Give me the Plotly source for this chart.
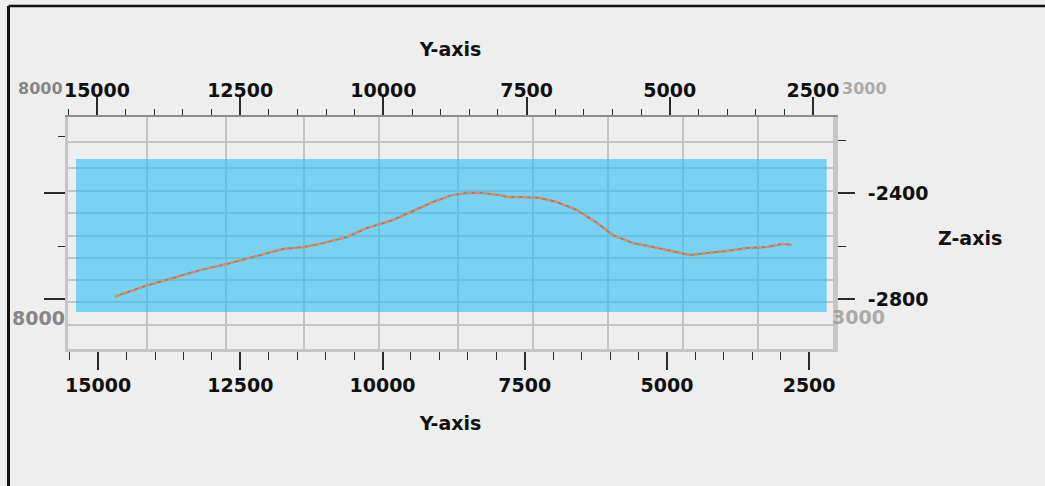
import plotly.graph_objects as go

# ---------------- data ----------------
# horizon line: Y coordinate (m) and Z depth (m)
horizon_y = [14704, 14212, 13684, 13209, 12735, 12278, 11750, 11381, 11100, 10625,
             10274, 9816, 9518, 9113, 8779, 8516, 8234, 7935, 7812, 7531,
             7232, 6933, 6582, 6230, 5949, 5597, 5246, 4894, 4595, 4296,
             3945, 3593, 3242, 2960, 2802]
horizon_z = [-2791, -2754, -2721, -2691, -2668, -2642, -2611, -2604, -2592, -2566,
             -2532, -2502, -2472, -2434, -2408, -2400, -2400, -2408, -2415, -2415,
             -2419, -2434, -2464, -2513, -2559, -2589, -2604, -2619, -2634, -2626,
             -2619, -2608, -2604, -2592, -2596]

# section (blue slab) extent
section_y = [15390, 2190]
section_z = [-2272, -2849]

# axis ranges and ticks
bottom_y_range = [15530, 2080]
top_y_range = [15506, 2151]
z_range = [-2988.7, -2113.2]
z_tick_vals = [-2400, -2800]
z_tick_text = ["-2400", "-2800"]
z_minor_vals = [-2200, -2600]
left_major_vals = [-2400, -2800]
left_minor_vals = [-2185, -2600]
grid_y_vals = [14141, 12752, 11381, 10063, 8674, 7355, 6037, 4718, 3400]
grid_z_vals = [-2898, -2811, -2728, -2645, -2562, -2475, -2392, -2306, -2208]

BG = "#eeeeee"
FONT = "DejaVu Sans"
tickfont = dict(family=FONT, size=19, color="#111111", weight="bold")
ghost_dark = "rgba(105,105,105,0.8)"
ghost_light = "rgba(140,140,140,0.7)"

fig = go.Figure()

# blue section slab
fig.add_trace(go.Scatter(
    x=[section_y[0], section_y[1], section_y[1], section_y[0], section_y[0]],
    y=[section_z[0], section_z[0], section_z[1], section_z[1], section_z[0]],
    mode="lines", fill="toself", fillcolor="rgba(45,191,245,0.6)",
    line=dict(width=0), hoverinfo="skip", showlegend=False))

# horizon line: grey under-stroke + orange dashes
fig.add_trace(go.Scatter(x=horizon_y, y=horizon_z, mode="lines",
                         line=dict(color="#7d8792", width=2.0),
                         showlegend=False))
fig.add_trace(go.Scatter(x=horizon_y, y=horizon_z, mode="lines",
                         line=dict(color="#e8895a", width=2.4, dash="5px,3px"),
                         showlegend=False))

# empty traces so the extra axes exist
fig.add_trace(go.Scatter(x=[], y=[], xaxis="x2", yaxis="y", showlegend=False))
fig.add_trace(go.Scatter(x=[], y=[], xaxis="x", yaxis="y2", showlegend=False))
fig.add_trace(go.Scatter(x=[], y=[], xaxis="x3", yaxis="y3", showlegend=False))

fig.update_layout(
    width=1045, height=486,
    margin=dict(l=68, r=212, t=117, b=137),
    paper_bgcolor=BG, plot_bgcolor=BG,
    showlegend=False,
    xaxis=dict(
        range=bottom_y_range, tickmode="linear", tick0=0, dtick=2500, tickformat="d",
        ticks="outside", ticklen=18, tickwidth=1.5, tickcolor="#2a2a2a",
        minor=dict(dtick=500, tick0=0, ticks="outside", ticklen=8, tickwidth=1.2,
                   tickcolor="#2a2a2a", showgrid=False),
        showline=True, linecolor="#c6c6c6", linewidth=3,
        showgrid=False, zeroline=False, tickfont=tickfont, ticklabelstandoff=-1,
        title=dict(text="Y-axis", font=tickfont, standoff=22)),
    xaxis2=dict(
        overlaying="x", side="top", anchor="y",
        range=top_y_range, tickmode="linear", tick0=0, dtick=2500, tickformat="d",
        ticks="outside", ticklen=18, tickwidth=1.5, tickcolor="#2a2a2a",
        minor=dict(dtick=500, tick0=0, ticks="outside", ticklen=6, tickwidth=1.2,
                   tickcolor="#2a2a2a", showgrid=False),
        showline=True, linecolor="#8c8c8c", linewidth=1.5,
        showgrid=False, zeroline=False, tickfont=tickfont, ticklabelstandoff=-7,
        title=dict(text="Y-axis", font=tickfont, standoff=17)),
    xaxis3=dict(
        overlaying="x", anchor="y3", range=bottom_y_range, tickmode="array",
        tickvals=grid_y_vals, showticklabels=False, ticks="", showline=False,
        showgrid=True, gridcolor="#c4c4c4", gridwidth=1.5, zeroline=False),
    yaxis=dict(
        side="right", range=z_range, tickmode="array",
        tickvals=z_tick_vals, ticktext=z_tick_text,
        ticks="outside", ticklen=17, tickwidth=1.5, tickcolor="#2a2a2a",
        minor=dict(tickvals=z_minor_vals, ticks="outside", ticklen=8, tickwidth=1.2,
                   tickcolor="#2a2a2a", showgrid=False),
        showline=True, linecolor="#c6c6c6", linewidth=5,
        showgrid=False, zeroline=False, tickfont=tickfont, ticklabelstandoff=9),
    yaxis2=dict(
        overlaying="y", side="left", anchor="x", range=z_range, tickmode="array",
        tickvals=left_major_vals, showticklabels=False,
        ticks="outside", ticklen=21, tickwidth=1.5, tickcolor="#2a2a2a",
        minor=dict(tickvals=left_minor_vals, ticks="outside", ticklen=7, tickwidth=1.2,
                   tickcolor="#2a2a2a", showgrid=False),
        showline=True, linecolor="#c6c6c6", linewidth=3,
        showgrid=False, zeroline=False),
    yaxis3=dict(
        overlaying="y", anchor="x3", range=z_range, tickmode="array",
        tickvals=grid_z_vals, showticklabels=False, ticks="", showline=False,
        showgrid=True, gridcolor="#c4c4c4", gridwidth=1.5, zeroline=False),
)

# right-hand axis title (horizontal)
fig.add_annotation(text="Z-axis", xref="paper", yref="paper", x=1.179, y=0.478,
                   xanchor="center", yanchor="middle", showarrow=False,
                   font=dict(family=FONT, size=19, color="#111111", weight="bold"))

# ghost labels of the underlying view
for txt, gx, gy, col, fs in [("8000", -0.0392, 0.1336, ghost_dark, 19),
                             ("3000", 1.0327, 0.138, ghost_light, 19),
                             ("8000", -0.0366, 1.1207, ghost_dark, 16),
                             ("3000", 1.0418, 1.1207, ghost_light, 16)]:
    fig.add_annotation(text=txt, xref="paper", yref="paper", x=gx, y=gy, showarrow=False,
                       xanchor="center", yanchor="middle",
                       font=dict(family=FONT, size=fs, color=col, weight="bold"))

# black frame of the screenshot window
fig.add_shape(type="line", xref="paper", yref="paper", x0=-0.0778, x1=-0.0778, y0=-0.6, y1=1.478,
              line=dict(color="#111111", width=3))
fig.add_shape(type="line", xref="paper", yref="paper", x0=-0.0778, x1=1.3, y0=1.478, y1=1.478,
              line=dict(color="#111111", width=2.5))

fig.write_html("out.html")
